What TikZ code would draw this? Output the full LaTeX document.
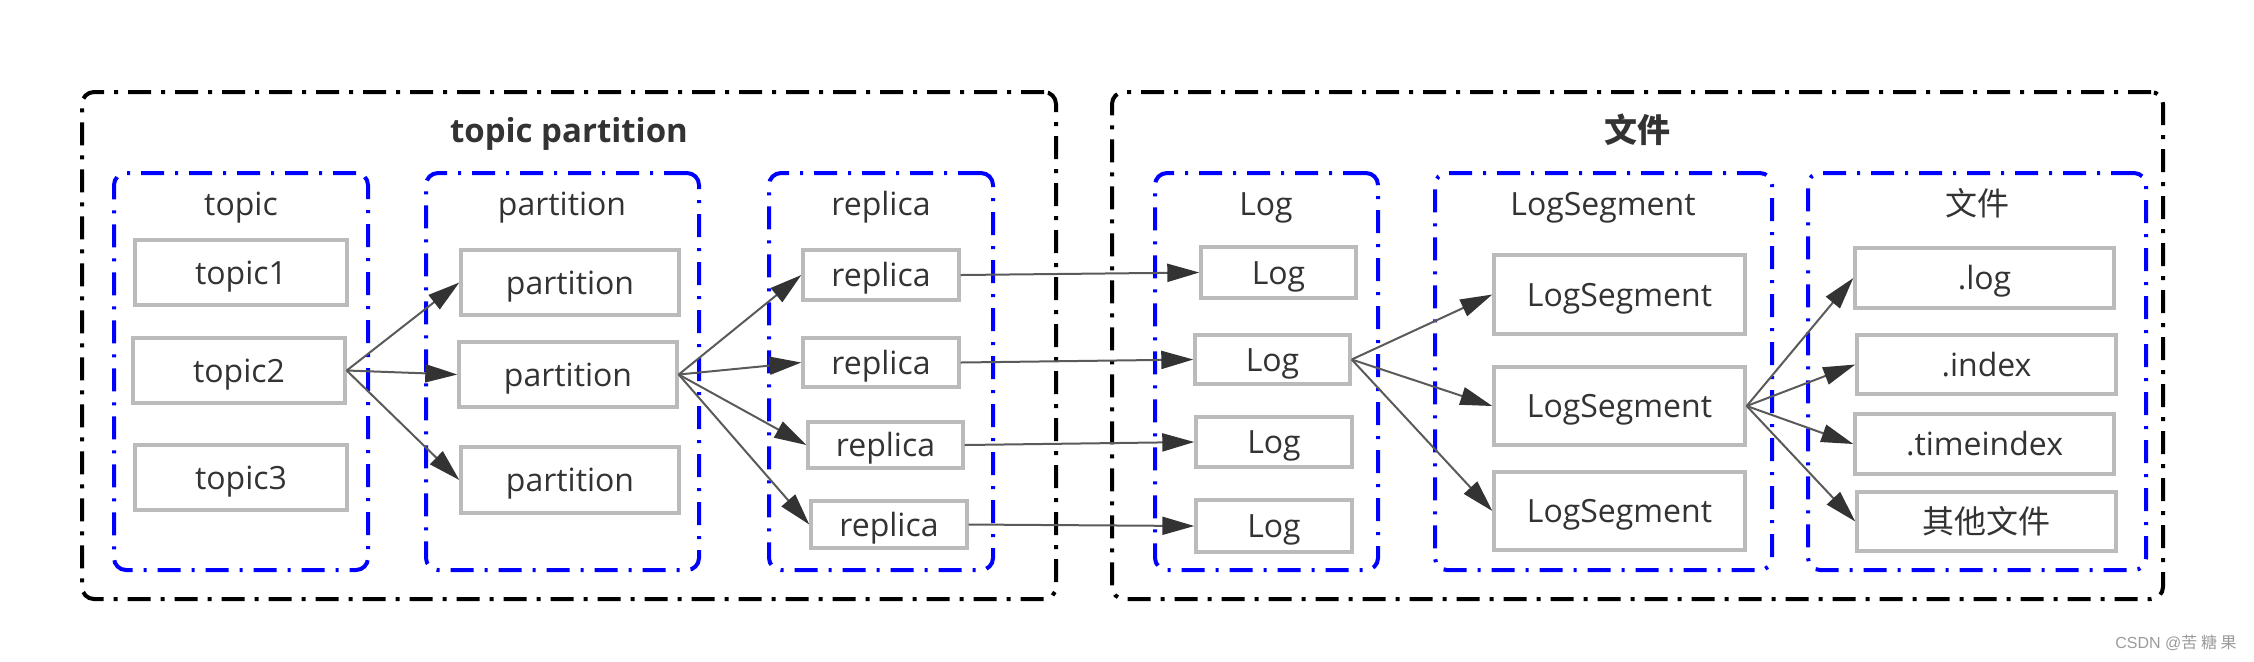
\documentclass[tikz,border=0pt]{standalone}
\usepackage{fontspec}
\setmainfont{Open Sans}
\newfontfamily\cjk{Noto Sans CJK SC}
\newfontfamily\wmfont{Liberation Sans}
\usetikzlibrary{arrows.meta}
\definecolor{txt}{HTML}{333333}
\definecolor{itemgray}{HTML}{BBBBBB}
\definecolor{linegray}{HTML}{5A5A5A}
\definecolor{headgray}{HTML}{333333}
\definecolor{wmgray}{HTML}{9A9A9A}
\tikzset{
  item/.style={draw=itemgray, line width=1.7pt, fill=white, inner sep=0pt, text=txt,
    font=\fontsize{16}{19}\selectfont, text height=15.4pt, text depth=3.8pt},
  group/.style={draw=blue, line width=2pt, rounded corners=6pt, inner sep=0pt,
    dash pattern=on 11.5pt off 5.5pt on 1.5pt off 5.5pt},
  outer/.style={draw=black, line width=2pt, rounded corners=6pt, inner sep=0pt,
    dash pattern=on 11.5pt off 5pt on 2pt off 5pt},
  gtitle/.style={text=txt, inner sep=0pt, font=\fontsize{16}{19}\selectfont,
    text height=15.4pt, text depth=3.8pt},
  otitle/.style={text=txt, inner sep=0pt, font=\fontsize{16.5}{19}\selectfont\bfseries,
    text height=15.8pt, text depth=4pt},
  conn/.style={draw=linegray, line width=1pt,
    -{Triangle[length=16pt,width=9pt,color=headgray]}},
}
\newcommand{\mkbox}[7][item]{%
  \pgfmathsetmacro{\myX}{(#3+#5)/2}\pgfmathsetmacro{\myY}{(#4+#6)/2}%
  \pgfmathsetmacro{\myW}{(#5-#3)/2}\pgfmathsetmacro{\myH}{(#6-#4)/2}%
  \node[#1, minimum width=\myW pt, minimum height=\myH pt] (#2) at (\myX,\myY) {#7};}
\begin{document}
\begin{tikzpicture}[x=0.5pt,y=-0.5pt]
\useasboundingbox (0,0) rectangle (2254,661);
% outer frames
\mkbox[outer]{outerL}{82}{92}{1056}{599}{}
\mkbox[outer]{outerR}{1112}{92}{2163}{599}{}
\node[otitle] (tOL) at (569,131) {topic partition};
\node[otitle] (tOR) at (1637,131) {\cjk 文件};
% groups
\mkbox[group]{gTopic}{114}{173}{368}{570}{}
\mkbox[group]{gPart}{426}{173}{699}{570}{}
\mkbox[group]{gRep}{769}{173}{993}{570}{}
\mkbox[group]{gLog}{1155}{173}{1378}{570}{}
\mkbox[group]{gSeg}{1435}{173}{1772}{570}{}
\mkbox[group]{gFile}{1808}{173}{2146}{570}{}
\node[gtitle] (tTopic) at (241,204) {topic};
\node[gtitle] (tPart) at (562,204) {partition};
\node[gtitle] (tRep) at (881,204) {replica};
\node[gtitle] (tLog) at (1266,204) {Log};
\node[gtitle] (tSeg) at (1603,204) {LogSegment};
\node[gtitle] (tFile) at (1977,204) {\cjk 文件};
% items
\mkbox{topic1}{135}{240}{347}{305}{topic1}
\mkbox{topic2}{133}{338}{345}{403}{topic2}
\mkbox{topic3}{135}{445}{347}{510}{topic3}
\mkbox{part1}{461}{250}{679}{315}{partition}
\mkbox{part2}{459}{342}{677}{407}{partition}
\mkbox{part3}{461}{447}{679}{513}{partition}
\mkbox{rep1}{803}{250}{959}{300}{replica}
\mkbox{rep2}{803}{338}{959}{387}{replica}
\mkbox{rep3}{808}{422}{963}{468}{replica}
\mkbox{rep4}{811}{501}{967}{548}{replica}
\mkbox{log1}{1201}{247}{1356}{298}{Log}
\mkbox{log2}{1195}{335}{1350}{384}{Log}
\mkbox{log3}{1196}{417}{1352}{467}{Log}
\mkbox{log4}{1196}{500}{1352}{552}{Log}
\mkbox{seg1}{1494}{255}{1745}{334}{LogSegment}
\mkbox{seg2}{1494}{367}{1745}{445}{LogSegment}
\mkbox{seg3}{1494}{472}{1745}{550}{LogSegment}
\mkbox{flog}{1855}{248}{2114}{308}{.log}
\mkbox{findex}{1857}{335}{2116}{394}{.index}
\mkbox{ftime}{1855}{414}{2114}{474}{.timeindex}
\mkbox{fother}{1857}{492}{2116}{551}{\cjk 其他文件}
% connectors
\foreach \t in {part1,part2,part3} \draw[conn] (topic2.east) -- (\t.west);
\foreach \t in {rep1,rep2,rep3,rep4} \draw[conn] (part2.east) -- (\t.west);
\draw[conn] (rep1.east) -- (log1.west);
\draw[conn] (rep2.east) -- (log2.west);
\draw[conn] (rep3.east) -- (log3.west);
\draw[conn] (rep4.east) -- (log4.west);
\foreach \t in {seg1,seg2,seg3} \draw[conn] (log2.east) -- (\t.west);
\foreach \t in {flog,findex,ftime,fother} \draw[conn] (seg2.east) -- (\t.west);
% watermark
\node[text=wmgray, inner sep=0pt, font=\fontsize{8}{10}\selectfont] (wm) at (2176,643) {\wmfont CSDN @\cjk 苦 糖 果};
\end{tikzpicture}
\end{document}
